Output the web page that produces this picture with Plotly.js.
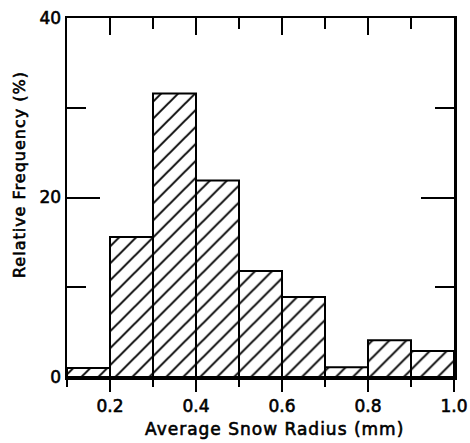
<!DOCTYPE html>
<html>
<head>
<meta charset="utf-8">
<script src="https://cdn.plot.ly/plotly-3.0.1.min.js"></script>
<style>
  html, body { margin: 0; padding: 0; background: #fff; }
  #chart { width: 470px; height: 443px; }
  .annotation-text { letter-spacing: 1px; }
  /* heavier, pen-lettered look for all text */
  .xtick text, .ytick text, .annotation-text { stroke: #000; stroke-width: 0.6px; }
</style>
</head>
<body>
<div id="chart"></div>
<script>
// Histogram of average snow radius: bin edges (mm) and relative frequency (%)
const binEdges = [0.1, 0.2, 0.3, 0.4, 0.5, 0.6, 0.7, 0.8, 0.9, 1.0];
const relFreq = [1.0, 15.6, 31.6, 21.9, 11.8, 8.9, 1.1, 4.1, 2.9];

const xTickVals = [0.2, 0.4, 0.6, 0.8, 1.0];
const xTickText = ['0.2', '0.4', '0.6', '0.8', '1.0'];
const yTickVals = [0, 20, 40];
const yTickText = ['0', '20', '40'];

const xTitle = 'Average Snow Radius (mm)';
const yTitle = 'Relative Frequency (%)';

const centers = relFreq.map((_, i) => (binEdges[i] + binEdges[i + 1]) / 2);
const widths = relFreq.map((_, i) => binEdges[i + 1] - binEdges[i]);

const font = { family: 'DejaVu Sans, sans-serif', color: '#000', size: 17 };

const bars = {
  type: 'bar',
  x: centers,
  y: relFreq,
  width: widths,
  marker: {
    color: '#fff',
    line: { color: '#000', width: 2 },
    pattern: { shape: '/', fgcolor: '#000', bgcolor: '#fff', size: 12, solidity: 0.16 }
  },
  hoverinfo: 'skip',
  showlegend: false
};

// empty trace so the top (inside-tick) axis is laid out
const topAxisHolder = {
  type: 'scatter', x: [], y: [], xaxis: 'x2', yaxis: 'y',
  hoverinfo: 'skip', showlegend: false
};

const axisLine = { showline: true, linecolor: '#000', linewidth: 2.5, showgrid: false, zeroline: false, fixedrange: true };

const layout = {
  width: 470,
  height: 443,
  margin: { l: 67, r: 16, t: 18, b: 66 },
  paper_bgcolor: '#fff',
  plot_bgcolor: '#fff',
  font: font,
  showlegend: false,
  bargap: 0,
  xaxis: Object.assign({}, axisLine, {
    range: [binEdges[0], binEdges[binEdges.length - 1]],
    tickmode: 'array', tickvals: xTickVals, ticktext: xTickText,
    ticks: 'outside', ticklen: 12, tickwidth: 2, tickcolor: '#000',
    minor: { dtick: 0.1, tick0: 0, ticks: 'outside', ticklen: 7, tickwidth: 2, tickcolor: '#000' },
    tickfont: font,
    mirror: false
  }),
  xaxis2: Object.assign({}, axisLine, {
    overlaying: 'x', side: 'top', matches: 'x',
    range: [binEdges[0], binEdges[binEdges.length - 1]],
    tickmode: 'array', tickvals: xTickVals,
    ticks: 'inside', ticklen: 17, tickwidth: 2, tickcolor: '#000',
    minor: { dtick: 0.1, tick0: 0, ticks: 'inside', ticklen: 11, tickwidth: 2, tickcolor: '#000' },
    showticklabels: false
  }),
  yaxis: Object.assign({}, axisLine, {
    range: [0, 40],
    tickmode: 'array', tickvals: yTickVals, ticktext: yTickText,
    ticks: 'inside', ticklen: 33, tickwidth: 2, tickcolor: '#000',
    minor: { dtick: 10, tick0: 0, ticks: 'inside', ticklen: 19, tickwidth: 2, tickcolor: '#000' },
    tickfont: font,
    mirror: 'ticks'
  }),
  annotations: [
    {
      text: xTitle, xref: 'paper', yref: 'paper', x: 0.537, y: -0.146,
      xanchor: 'center', yanchor: 'middle', showarrow: false, font: font
    },
    {
      text: yTitle, xref: 'paper', yref: 'paper', x: -0.121, y: 0.563,
      xanchor: 'center', yanchor: 'middle', textangle: -90, showarrow: false,
      font: Object.assign({}, font, { size: 16 })
    }
  ]
};

Plotly.newPlot('chart', [bars, topAxisHolder], layout, { staticPlot: true, displayModeBar: false });
</script>
</body>
</html>
